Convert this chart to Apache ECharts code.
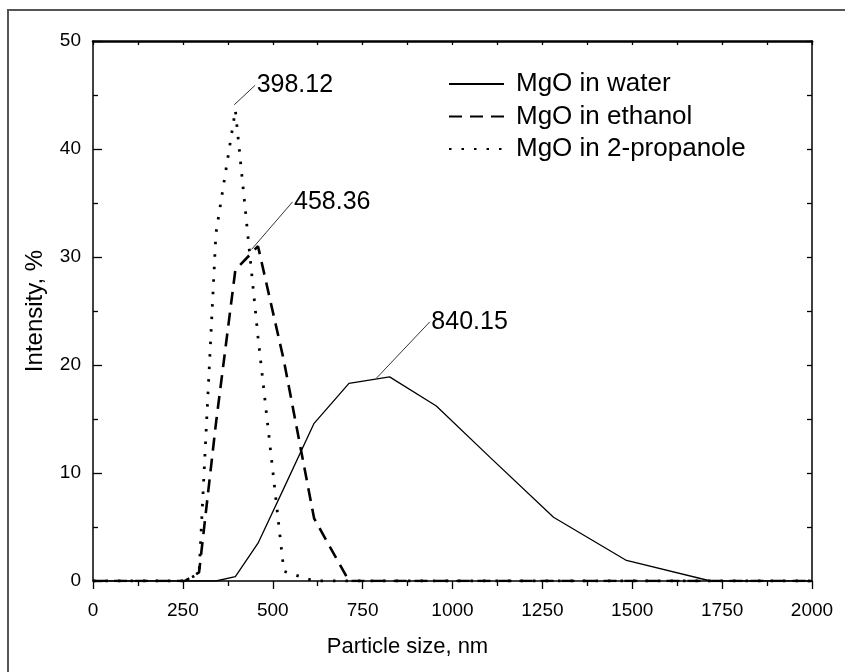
<!DOCTYPE html>
<html>
<head>
<meta charset="utf-8">
<script src="https://cdn.jsdelivr.net/npm/echarts@6/dist/echarts.min.js"></script>
<style>
html,body{margin:0;padding:0;background:#fff;}
#chart{width:845px;height:672px;}
</style>
</head>
<body>
<div id="chart"></div>
<script>
// particle size bins, nm
var sizes = [0, 255, 295, 342, 396, 459, 531, 615, 712, 825, 955, 1106, 1281, 1484, 1718, 2000];
// intensity, %
var water    = [0, 0, 0,   0,    0.4,  3.5,  8.6, 14.6, 18.3, 18.9, 16.2, 11.4, 5.9, 1.9, 0, 0];
var ethanol  = [0, 0, 0.8, 14.6, 28.8, 31.0, 20.4, 5.8, 0,    0,    0,    0,    0,   0,   0, 0];
var propanol = [0, 0, 0.7, 32.2, 43.6, 22.6, 0.9,  0,   0,    0,    0,    0,    0,   0,   0, 0];

var seriesNames = ['MgO in water', 'MgO in ethanol', 'MgO in 2-propanole'];
var xTicks = [0, 250, 500, 750, 1000, 1250, 1500, 1750, 2000];
var yTicks = [0, 10, 20, 30, 40, 50];

// peak annotations (data units)
var peakLabels = ['840.15', '458.36', '398.12'];
var peakAnchor = [[789, 18.8], [441, 30.7], [393, 44.1]];
var peakText   = [[937, 24.0], [555, 35.1], [451, 45.9]];

function pairs(ys) { return sizes.map(function (x, i) { return [x, ys[i]]; }); }

var FONT = 'Liberation Sans, Arial, sans-serif';

function annot(i) {
  return {
    markPoint: {
      silent: true, animation: false,
      symbol: 'circle', symbolSize: 1,
      itemStyle: { color: 'rgba(0,0,0,0)' },
      label: { show: true, position: 'right', distance: 1, formatter: peakLabels[i],
               color: '#000', fontSize: 25, fontFamily: FONT },
      data: [{ coord: peakText[i] }]
    },
    markLine: {
      silent: true, animation: false, symbol: ['none', 'none'],
      label: { show: false },
      lineStyle: { type: 'solid', color: '#000', width: 0.8 },
      emphasis: { disabled: true },
      data: [[{ coord: peakAnchor[i] }, { coord: peakText[i] }]]
    }
  };
}

var styles = [
  { color: '#000', width: 1.3, type: 'solid' },
  { color: '#000', width: 2.6, type: [13, 8] },
  { color: '#000', width: 2.8, type: [2.5, 10] }
];
var dataSets = [water, ethanol, propanol];

var series = dataSets.map(function (d, i) {
  var s = {
    name: seriesNames[i], type: 'line', data: pairs(d),
    xAxisIndex: 0, yAxisIndex: 0,
    symbol: 'none', showSymbol: false, smooth: false, animation: false,
    lineStyle: styles[i],
    itemStyle: { color: '#000' },
    emphasis: { disabled: true }
  };
  var a = annot(i);
  s.markPoint = a.markPoint; s.markLine = a.markLine;
  return s;
});

function aLine(w) { return { show: true, onZero: false, lineStyle: { color: '#000', width: w } }; }
var tickStyle = { color: '#000', width: 1.3 };

var option = {
  backgroundColor: '#fff',
  animation: false,
  graphic: [{
    type: 'rect', silent: true,
    shape: { x: 8, y: 10, width: 860, height: 700 },
    style: { fill: 'none', stroke: '#555', lineWidth: 2 }
  }],
  grid: { left: 93, right: 33, top: 41, bottom: 91, containLabel: false },
  legend: {
    orient: 'vertical', left: 448, top: 71, padding: 0,
    itemWidth: 55, itemHeight: 14, itemGap: 6.5,
    data: seriesNames,
    itemStyle: { opacity: 0 },
    textStyle: { fontSize: 26, fontFamily: FONT, color: '#000', lineHeight: 22, padding: [0, 0, 0, 7] },
    selectedMode: false
  },
  xAxis: [{
    type: 'value', position: 'bottom', min: 0, max: 2000, interval: 250,
    axisLine: aLine(1.5),
    axisTick: { show: true, inside: false, length: 8, lineStyle: tickStyle },
    minorTick: { show: true, splitNumber: 2, length: 5, lineStyle: tickStyle },
    splitLine: { show: false },
    axisLabel: { fontSize: 19, fontFamily: FONT, color: '#000', margin: 20,
                 formatter: function (v) { return xTicks.indexOf(v) >= 0 ? String(v) : ''; } },
    name: 'Particle size, nm', nameLocation: 'middle', nameGap: 55,
    nameTextStyle: { fontSize: 22, fontFamily: FONT, color: '#000', padding: [0, 90, 0, 0] }
  }, {
    type: 'value', position: 'top', min: 0, max: 2000, interval: 250,
    axisLine: aLine(2.5),
    axisTick: { show: true, inside: true, length: 4, lineStyle: tickStyle },
    minorTick: { show: true, splitNumber: 2, length: 4, lineStyle: tickStyle },
    splitLine: { show: false }, axisLabel: { show: false }
  }],
  yAxis: [{
    type: 'value', position: 'left', min: 0, max: 50, interval: 10,
    axisLine: aLine(1.5),
    axisTick: { show: true, inside: true, length: 9, lineStyle: tickStyle },
    minorTick: { show: true, splitNumber: 2, length: 5, lineStyle: tickStyle },
    splitLine: { show: false },
    axisLabel: { fontSize: 19, fontFamily: FONT, color: '#000', margin: 12,
                 formatter: function (v) { return yTicks.indexOf(v) >= 0 ? String(v) : ''; } },
    name: 'Intensity, %', nameLocation: 'middle', nameGap: 46,
    nameTextStyle: { fontSize: 24, fontFamily: FONT, color: '#000' }
  }, {
    type: 'value', position: 'right', min: 0, max: 50, interval: 10,
    axisLine: aLine(1.5),
    axisTick: { show: true, inside: true, length: 5, lineStyle: tickStyle },
    minorTick: { show: true, splitNumber: 2, length: 5, lineStyle: tickStyle },
    splitLine: { show: false }, axisLabel: { show: false }
  }],
  series: series
};

var chart = echarts.init(document.getElementById('chart'), null, { renderer: 'canvas' });
chart.setOption(option);
</script>
</body>
</html>
